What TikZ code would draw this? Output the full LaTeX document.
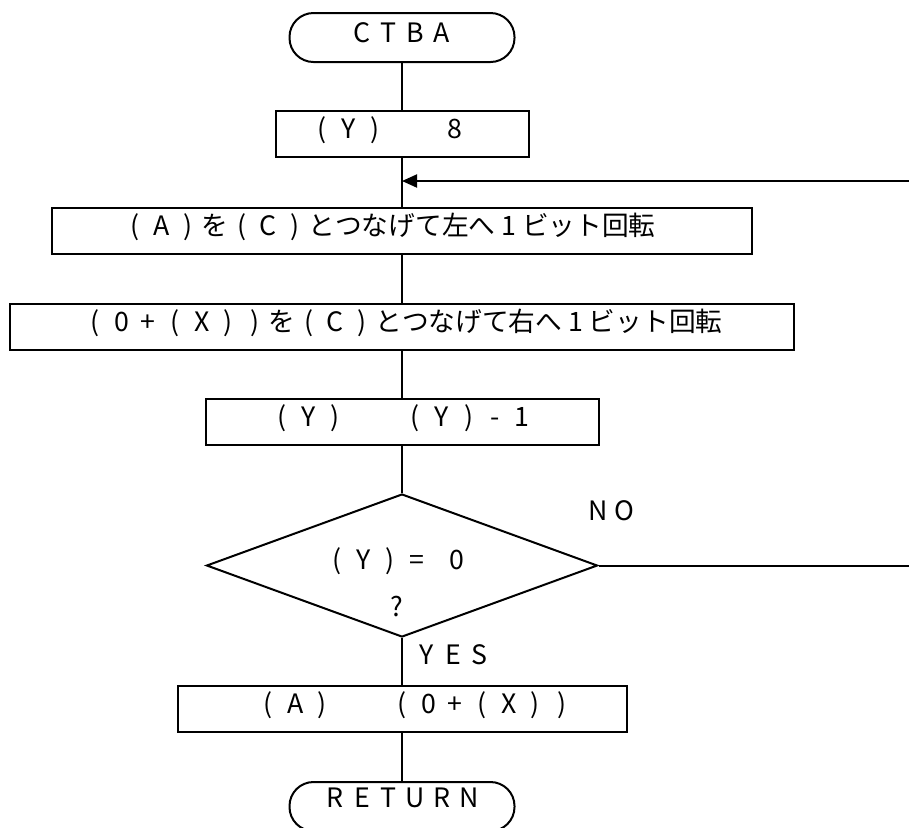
\documentclass[tikz,border=0pt]{standalone}
\usepackage{fontspec}
\setmainfont{Noto Sans CJK JP}
\usepackage{tikz}
\usetikzlibrary{arrows.meta, shapes.geometric}

% one character per fixed cell
\newcommand\cells[1]{\cellsnext#1\relax}
\newcommand\cellsnext[1]{\ifx\relax#1\else\makebox[1em]{#1}\expandafter\cellsnext\fi}

\begin{document}
\begin{tikzpicture}[x=0.5pt, y=-0.5pt, line width=1pt,
    font=\fontsize{13.35pt}{23.5pt}\selectfont,
    proc/.style={draw, rectangle, inner sep=0pt, minimum height=23pt,
                 text height=9.8pt, text depth=5pt},
    term/.style={draw, rectangle, rounded corners=12pt, inner sep=0pt,
                 minimum width=112.5pt, minimum height=24.5pt,
                 text height=9.8pt, text depth=5pt},
    decide/.style={draw, diamond, aspect=2.73, inner sep=0pt,
                   minimum width=195.5pt, minimum height=71.5pt}]
  \useasboundingbox (0,0) rectangle (909,827);

  % Main column
  \node[term] (ctba) at (402,37.5) {\cells{CTBA}};
  \node[proc, minimum width=126.5pt] (sety) at (402,133.5) {\cells{(Y)　　8　}};
  \coordinate (join) at (402,181);
  \node[proc, minimum width=350pt] (rota) at (402,231)
    {\cells{(A)を(C)とつなげて左へ1ビット回転　}};
  \node[proc, minimum width=392pt] (rotx) at (402,326.5)
    {\cells{(0+(X))を(C)とつなげて右へ1ビット回転}};
  \node[proc, minimum width=196.5pt] (decy) at (402,422) {\cells{(Y)　　(Y)-1}};
  \node[decide] (test) at (402,565.5)
    {\raisebox{-12.6pt}[0pt][0pt]{\begin{tabular}{@{}c@{\hspace{5pt}}}
      \cells{(Y)=}\hspace{.5em}\cells{0}\\ \cells{?}\end{tabular}}};
  \node[proc, minimum width=224.5pt] (seta) at (402,709) {\cells{　(A)　　(0+(X))}};
  \node[term, text depth=9pt] (ret) at (402,806.5) {\cells{RETURN}};

  % Branch labels
  \node (no) at (611,511) {\cells{NO}};
  \node (yes) at (453,655) {\cells{YES}};
  \coordinate (back) at (915,565.5);

  % Flow lines
  \draw (ctba) -- (sety);
  \draw (sety) -- (rota);
  \draw (rota) -- (rotx);
  \draw (rotx) -- (decy);
  \draw (decy) -- (test);
  \draw (test) -- (seta);
  \draw (seta) -- (ret);

  % Loop back
  \draw[-{Triangle[length=7.5pt,width=6.5pt]}] (test.east) -- (back) |- (join);
\end{tikzpicture}
\end{document}
